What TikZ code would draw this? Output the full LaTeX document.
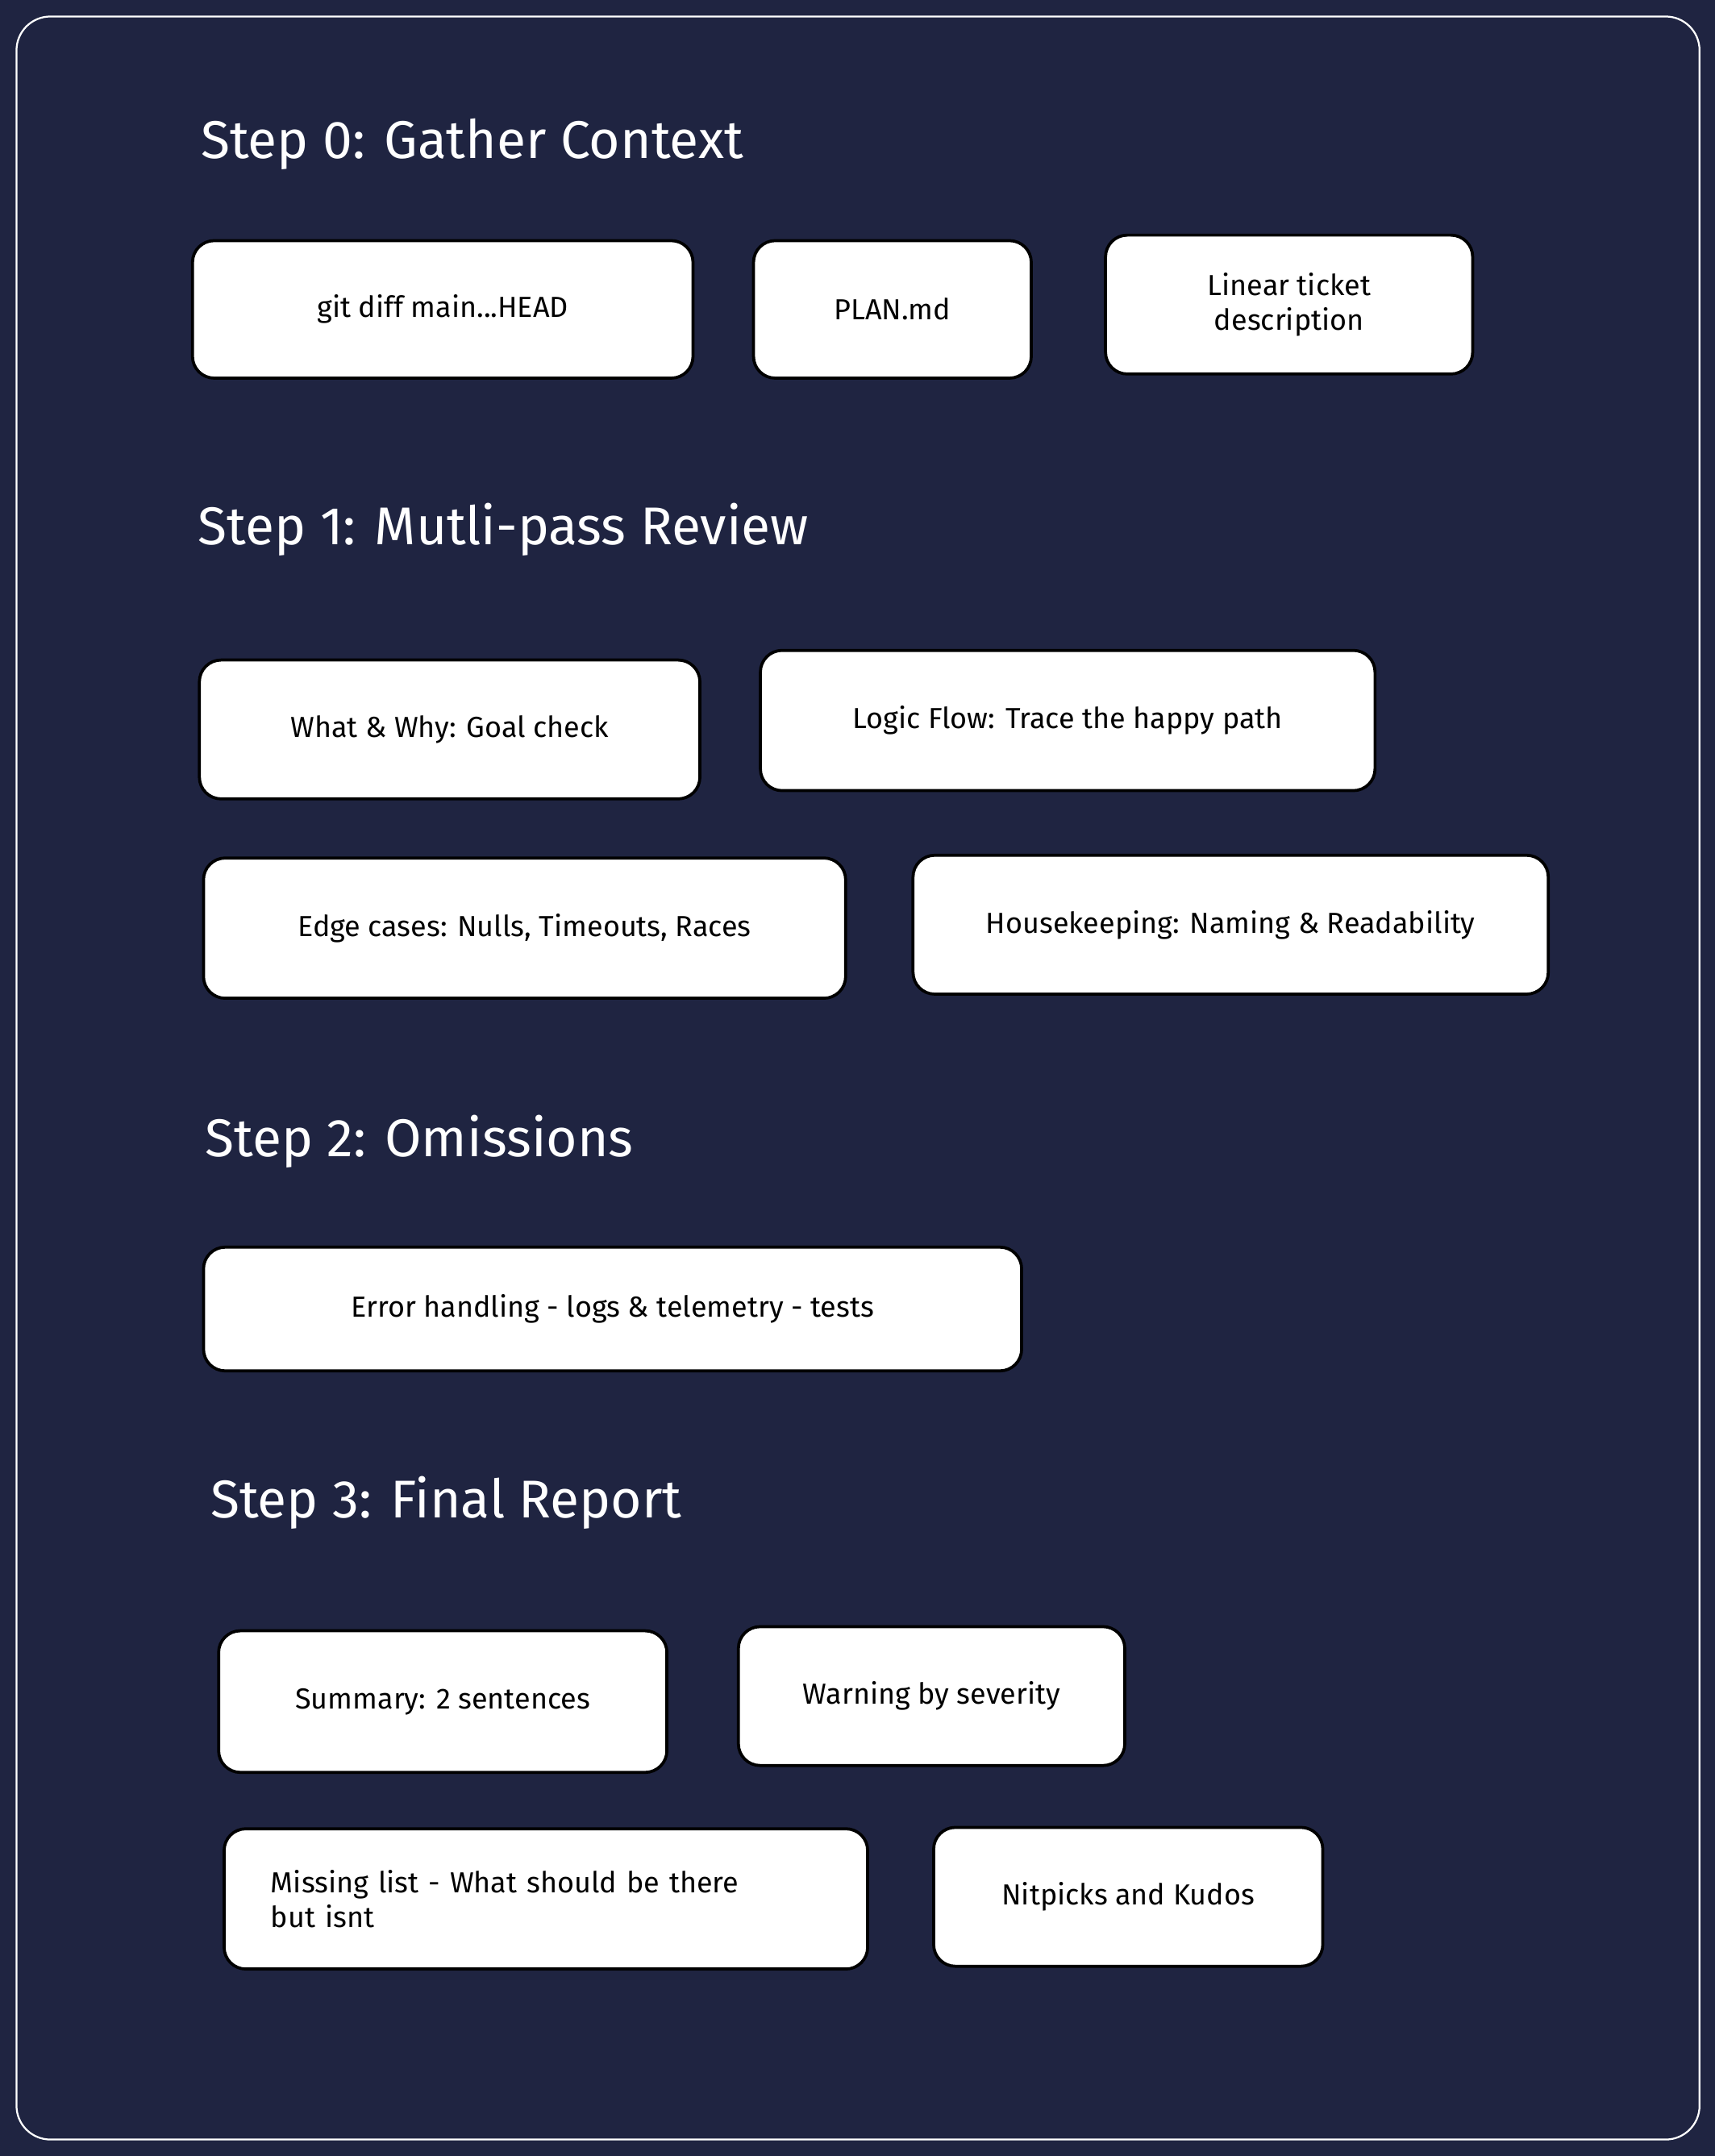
\documentclass[tikz,border=0pt]{standalone}
\usepackage{fontspec}
\setmainfont{Fira Sans}
\definecolor{navy}{HTML}{1F2441}
\begin{document}
\begin{tikzpicture}[x=0.04cm,y=-0.04cm,
  box/.style={draw=black,line width=2.5pt,fill=white,rounded corners=18pt,font=\fontsize{24}{29}\selectfont,text=black},
  ttl/.style={anchor=west,text=white,font=\fontsize{44}{50}\selectfont}]
\fill[navy] (0,0) rectangle (1247,1568);
\useasboundingbox (0,0) rectangle (1247,1568);
\draw[white,line width=1.5pt,rounded corners=28pt] (12,12) rectangle (1236,1556);
\newcommand\bx[6]{\node[box,minimum width={(#4-#2)*0.04cm},minimum height={(#5-#3)*0.04cm},align=center] (#1) at ({(#2+#4)/2},{(#3+#5)/2}) {#6};}
\node[ttl] (t0) at (143,105) {Step 0: Gather Context};
\bx{a}{140}{175}{504}{275}{git diff main...HEAD}
\bx{b}{548}{175}{750}{275}{PLAN.md}
\bx{c}{804}{171}{1071}{272}{Linear ticket\\description}
\node[ttl] (t1) at (141,385) {Step 1: Mutli-pass Review};
\bx{d}{145}{480}{509}{581}{What \& Why: Goal check}
\bx{e}{553}{473}{1000}{575}{Logic Flow: Trace the happy path}
\bx{f}{148}{624}{615}{726}{Edge cases: Nulls, Timeouts, Races}
\bx{g}{664}{622}{1126}{723}{Housekeeping: Naming \& Readability}
\node[ttl] (t2) at (146,830) {Step 2: Omissions};
\bx{h}{148}{907}{743}{997}{Error handling - logs \& telemetry - tests}
\node[ttl] (t3) at (150,1093) {Step 3: Final Report};
\bx{i}{159}{1186}{485}{1289}{Summary: 2 sentences}
\bx{j}{537}{1183}{818}{1284}{Warning by severity}
\node[box,minimum width={468*0.04cm},minimum height={102*0.04cm},text width={400*0.04cm},align=left] (k) at (397,1381) {Missing list - What should be there\\but isnt};
\bx{l}{679}{1329}{962}{1430}{Nitpicks and Kudos}
\end{tikzpicture}
\end{document}
